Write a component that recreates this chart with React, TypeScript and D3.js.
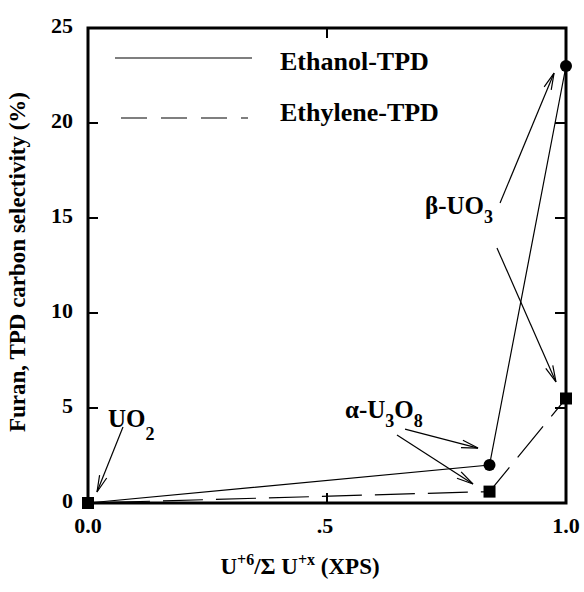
import React from "react";
import * as d3 from "d3";

const ethanolX = [0.0, 0.84, 1.0];
const ethanolY = [0.0, 2.0, 23.0];
const ethyleneX = [0.0, 0.84, 1.0];
const ethyleneY = [0.0, 0.6, 5.5];
const yTicks = [0, 5, 10, 15, 20, 25];
const xTicks = [0, 0.5, 1.0];
const xTickLabels = ["0.0", ".5", "1.0"];
const legendLabels = ["Ethanol-TPD", "Ethylene-TPD"];

// annotation arrows in data units: [x1, y1, x2, y2]
const arrows = [
  [0.0732, 4.0, 0.0188, 0.58],
  [0.6632, 3.89, 0.8159, 2.89],
  [0.6464, 3.58, 0.8054, 1.0],
  [0.862, 15.79, 0.975, 22.63],
  [0.8556, 13.42, 0.979, 6.37],
];

const W = 584;
const H = 592;
const FONT = "'Liberation Serif', 'Times New Roman', serif";

export default function App() {
  const x = d3.scaleLinear().domain([0, 1]).range([88, 566]);
  const y = d3.scaleLinear().domain([0, 25]).range([503, 28]);
  const line = d3
    .line<[number, number]>()
    .x((d) => x(d[0]))
    .y((d) => y(d[1]));
  const eth = ethanolX.map((v, i) => [v, ethanolY[i]] as [number, number]);
  const ethy = ethyleneX.map((v, i) => [v, ethyleneY[i]] as [number, number]);

  const arrowHead = (x1: number, y1: number, x2: number, y2: number) => {
    const ang = Math.atan2(y2 - y1, x2 - x1);
    const L = 17;
    const a = (13 * Math.PI) / 180;
    const p1 = [x2 - L * Math.cos(ang - a), y2 - L * Math.sin(ang - a)];
    const p2 = [x2 - L * Math.cos(ang + a), y2 - L * Math.sin(ang + a)];
    return `M${p1[0]},${p1[1]}L${x2},${y2}L${p2[0]},${p2[1]}`;
  };

  return (
    <svg width={W} height={H} style={{ position: "absolute", left: 0, top: 0, background: "#fff" }}>
      <rect x={0} y={0} width={W} height={H} fill="#fff" />
      {/* ticks */}
      {yTicks.slice(1, -1).map((t) => (
        <g key={"yt" + t}>
          <line x1={x(0)} x2={x(0) + 10} y1={y(t)} y2={y(t)} stroke="#000" strokeWidth={2} />
          <line x1={x(1)} x2={x(1) - 11} y1={y(t)} y2={y(t)} stroke="#000" strokeWidth={2} />
        </g>
      ))}
      <line x1={x(0.5)} x2={x(0.5)} y1={y(25)} y2={y(25) + 10} stroke="#000" strokeWidth={2} />
      <line x1={x(0.5)} x2={x(0.5)} y1={y(0)} y2={y(0) - 10} stroke="#000" strokeWidth={2} />
      {/* frame */}
      <rect x={x(0)} y={y(25)} width={x(1) - x(0)} height={y(0) - y(25)} fill="none" stroke="#000" strokeWidth={3} />
      {/* tick labels */}
      {yTicks.map((t) => (
        <text key={"yl" + t} x={73} y={y(t) + 5} textAnchor="end" fontFamily={FONT} fontWeight="bold" fontSize={22}>
          {t}
        </text>
      ))}
      {xTicks.map((t, i) => (
        <text key={"xl" + t} x={x(t) - (i === 1 ? 2 : 0)} y={533} textAnchor="middle" fontFamily={FONT} fontWeight="bold" fontSize={22}>
          {xTickLabels[i]}
        </text>
      ))}
      {/* axis labels */}
      <text
        transform={`translate(25,262) rotate(-90)`}
        textAnchor="middle"
        fontFamily={FONT}
        fontWeight="bold"
        fontSize={23}
      >
        Furan, TPD carbon selectivity (%)
      </text>
      <text x={300} y={574} textAnchor="middle" fontFamily={FONT} fontWeight="bold" fontSize={23}>
        U<tspan dy={-9} fontSize={16}>+6</tspan>
        <tspan dy={9}>/Σ U</tspan>
        <tspan dy={-9} fontSize={16}>+x</tspan>
        <tspan dy={9}> (XPS)</tspan>
      </text>
      {/* legend */}
      <line x1={115} x2={252} y1={58} y2={58} stroke="#000" strokeWidth={1.2} />
      <line x1={121} x2={248} y1={118} y2={118} stroke="#000" strokeWidth={1.2} strokeDasharray="26 14" />
      <text x={280} y={70} fontFamily={FONT} fontWeight="bold" fontSize={26}>
        {legendLabels[0]}
      </text>
      <text x={280} y={121} fontFamily={FONT} fontWeight="bold" fontSize={26}>
        {legendLabels[1]}
      </text>
      {/* series */}
      <path d={line(eth) || ""} fill="none" stroke="#000" strokeWidth={1.2} />
      <path d={line(ethy) || ""} fill="none" stroke="#000" strokeWidth={1.2} strokeDasharray="40 13" strokeDashoffset={-22} />
      {eth.slice(1).map((d, i) => (
        <circle key={"c" + i} cx={x(d[0])} cy={y(d[1])} r={6} fill="#000" />
      ))}
      {ethy.map((d, i) => (
        <rect key={"s" + i} x={x(d[0]) - 6} y={y(d[1]) - 6} width={12} height={12} fill="#000" />
      ))}
      {/* annotations */}
      {arrows.map((a, i) => {
        const x1 = x(a[0]), y1 = y(a[1]), x2 = x(a[2]), y2 = y(a[3]);
        return (
          <g key={"a" + i}>
            <line x1={x1} y1={y1} x2={x2} y2={y2} stroke="#000" strokeWidth={1.2} />
            <path d={arrowHead(x1, y1, x2, y2)} fill="none" stroke="#000" strokeWidth={1.2} />
          </g>
        );
      })}
      <text x={x(0.0418)} y={y(4.0)} fontFamily={FONT} fontWeight="bold" fontSize={25}>
        UO<tspan dy={13} fontSize={18}>2</tspan>
      </text>
      <text x={x(0.5377)} y={y(4.47)} fontFamily={FONT} fontWeight="bold" fontSize={25}>
        α-U<tspan dy={9} fontSize={18}>3</tspan>
        <tspan dy={-9}>O</tspan>
        <tspan dy={9} fontSize={18}>8</tspan>
      </text>
      <text x={x(0.705)} y={y(15.2)} fontFamily={FONT} fontWeight="bold" fontSize={25}>
        β-UO<tspan dy={9} fontSize={18}>3</tspan>
      </text>
    </svg>
  );
}
